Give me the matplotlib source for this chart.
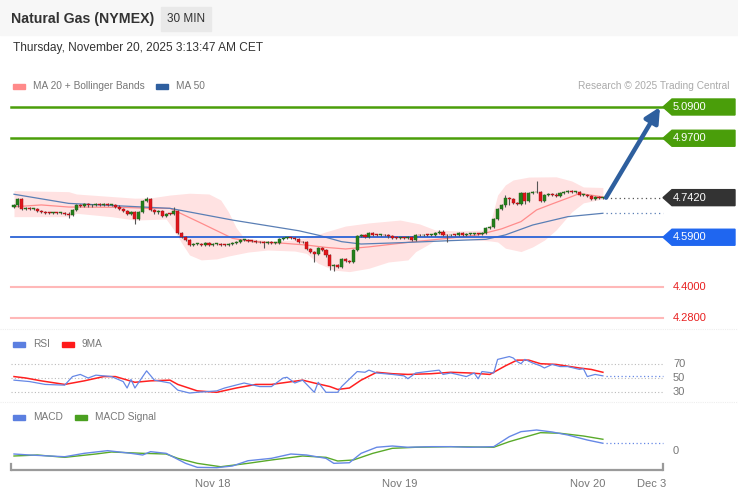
import numpy as np
import matplotlib
matplotlib.use('Agg')
import matplotlib.pyplot as plt
from matplotlib.patches import Rectangle, Polygon
import matplotlib.transforms as mtrans

plt.rcParams['font.family'] = ['Liberation Sans', 'DejaVu Sans']

# ---------------- data (30 min candles, closes) ----------------
closes = [4.712, 4.735, 4.700, 4.703, 4.698, 4.700, 4.690, 4.686, 4.684, 4.683,
          4.684, 4.682, 4.683, 4.681, 4.676, 4.695, 4.712, 4.710, 4.716, 4.712,
          4.715, 4.718, 4.714, 4.716, 4.713, 4.715, 4.708, 4.700, 4.690, 4.678,
          4.685, 4.660, 4.686, 4.730, 4.735, 4.695, 4.685, 4.690, 4.672, 4.680,
          4.678, 4.690, 4.605, 4.590, 4.580, 4.560, 4.563, 4.565, 4.562, 4.566,
          4.560, 4.563, 4.565, 4.561, 4.559, 4.564, 4.567, 4.572, 4.578, 4.580,
          4.577, 4.574, 4.572, 4.570, 4.568, 4.570, 4.567, 4.569, 4.582, 4.586,
          4.588, 4.587, 4.585, 4.572, 4.570, 4.545, 4.535, 4.525, 4.550, 4.540,
          4.520, 4.478, 4.482, 4.476, 4.505, 4.498, 4.495, 4.540, 4.596, 4.598,
          4.590, 4.605, 4.600, 4.598, 4.599, 4.597, 4.593, 4.588, 4.587, 4.588,
          4.586, 4.590, 4.578, 4.598, 4.597, 4.600, 4.598, 4.600, 4.606, 4.612,
          4.598, 4.597, 4.600, 4.598, 4.606, 4.598, 4.602, 4.603, 4.604, 4.603,
          4.605, 4.625, 4.630, 4.660, 4.700, 4.712, 4.742, 4.737, 4.722, 4.718,
          4.760, 4.730, 4.760, 4.762, 4.762, 4.730, 4.752, 4.757, 4.754, 4.750,
          4.760, 4.764, 4.766, 4.763, 4.764, 4.752, 4.752, 4.748, 4.738, 4.743,
          4.741, 4.742]
first_open = 4.705
wick = 0.004
long_highs = {34: 4.745, 41: 4.705, 126: 4.752, 134: 4.807}
long_lows = {14: 4.665, 31: 4.640, 64: 4.548, 77: 4.495, 81: 4.465, 82: 4.462,
             111: 4.570, 127: 4.715, 131: 4.718}

# indicator readings (candle index, value)
ma20_idx = [0, 7, 14, 27, 35, 40, 48, 56, 61, 69, 75, 80, 85, 91, 102, 112, 119, 125, 130, 134, 138, 143, 145, 151]
ma20_val = [4.707, 4.714, 4.706, 4.705, 4.701, 4.701, 4.644, 4.586, 4.573, 4.567, 4.560, 4.551,
            4.545, 4.553, 4.572, 4.587, 4.599, 4.622, 4.650, 4.695, 4.718, 4.746, 4.758, 4.745]
ma50_idx = [0, 14, 40, 56, 73, 78, 84, 89, 99, 112, 121, 126, 133, 142, 151]
ma50_val = [4.755, 4.720, 4.701, 4.656, 4.615, 4.598, 4.573, 4.564, 4.569, 4.577, 4.582, 4.599,
            4.637, 4.669, 4.682]
bb_up_idx = [0, 14, 16, 31, 35, 40, 45, 50, 53, 55, 57, 59, 66, 71, 76, 80, 85, 91, 99, 104, 108,
             114, 121, 122, 124, 126, 128, 132, 139, 143, 146, 151]
bb_up_val = [4.769, 4.765, 4.756, 4.740, 4.741, 4.752, 4.759, 4.756, 4.733, 4.687, 4.626, 4.587,
             4.576, 4.579, 4.591, 4.611, 4.633, 4.645, 4.656, 4.641, 4.618, 4.614, 4.618, 4.637,
             4.752, 4.791, 4.810, 4.821, 4.822, 4.806, 4.783, 4.781]
bb_lo_idx = [0, 14, 16, 25, 31, 37, 39, 41, 43, 45, 48, 52, 55, 60, 65, 72, 75, 78, 82, 86, 91,
             96, 101, 103, 106, 108, 114, 122, 124, 126, 130, 133, 136, 139, 143, 146, 151]
bb_lo_val = [4.669, 4.669, 4.682, 4.669, 4.656, 4.659, 4.660, 4.618, 4.568, 4.522, 4.503, 4.507,
             4.518, 4.533, 4.541, 4.537, 4.528, 4.490, 4.464, 4.458, 4.471, 4.495, 4.503, 4.535,
             4.560, 4.579, 4.583, 4.576, 4.572, 4.548, 4.535, 4.553, 4.579, 4.618, 4.687, 4.722,
             4.737]

rsi_idx = [0, 4, 8, 13, 15, 17, 19, 21, 25, 28, 29, 30, 31, 34, 36, 40, 42, 45, 47, 52, 54, 59,
           63, 66, 69, 70, 72, 74, 77, 78, 80, 83, 84, 88, 90, 91, 93, 97, 100, 101, 103, 109,
           110, 112, 116, 118, 119, 120, 123, 124, 127, 128, 129, 130, 131, 133, 135, 136, 138,
           140, 142, 145, 146, 147, 149, 151]
rsi_val = [47, 45, 41, 40, 52, 55, 50, 54, 52, 45, 36, 48, 36, 60, 47, 43, 33, 29, 30, 32, 36, 43,
           38, 38, 50, 51, 43, 47, 30, 44, 30, 30, 38, 59, 58, 61, 57, 55, 53, 49, 57, 61,
           55, 57, 52, 57, 49, 59, 57, 76, 80, 78, 73, 70, 76, 71, 67, 64, 69,
           66, 66, 62, 63, 52, 55, 53]
rsi_ma_idx = [0, 3, 7, 13, 18, 23, 26, 31, 35, 40, 42, 47, 52, 57, 62, 66, 74, 77, 81, 83, 86, 89,
              93, 97, 101, 107, 112, 117, 122, 126, 129, 132, 135, 139, 145, 148, 151]
rsi_ma_val = [52, 50, 46, 41, 46, 52, 52, 44, 46, 47, 41, 32, 30, 36, 41, 41, 47, 43, 38, 34, 36,
              47, 58, 56, 55, 56, 58, 57, 55, 67, 75, 75, 70, 69, 64, 62, 58]

macd_idx = [0, 4, 13, 18, 24, 30, 33, 35, 39, 44, 47, 52, 56, 60, 66, 71, 75, 80, 82, 86, 89, 93,
            97, 101, 107, 112, 117, 123, 127, 130, 134, 138, 142, 147, 151]
macd_val = [-0.0045, -0.006, -0.0086, -0.0035, 0.0005, -0.0035, -0.006, -0.001, -0.0035, -0.0185,
            -0.0245, -0.025, -0.0225, -0.0146, -0.011, -0.0045, -0.006, -0.011, -0.0185, -0.0176,
            -0.0035, 0.0056, 0.0075, 0.0056, 0.0065, 0.0065, 0.0056, 0.0065, 0.0215, 0.029,
            0.0315, 0.0285, 0.024, 0.0165, 0.0116]
sig_idx = [0, 6, 13, 21, 25, 33, 39, 42, 47, 53, 60, 66, 74, 80, 83, 87, 92, 97, 103, 112, 123,
           127, 132, 135, 140, 146, 151]
sig_val = [-0.0075, -0.006, -0.0095, -0.0045, -0.0015, -0.0035, -0.0045, -0.011, -0.0185, -0.0236,
           -0.0185, -0.0135, -0.0075, -0.0095, -0.015, -0.0135, -0.0035, 0.004, 0.0056, 0.0065,
           0.0056, 0.014, 0.0225, 0.0275, 0.0266, 0.0225, 0.0176]

last_price = 4.742
target_levels = [5.09, 4.97]
pivot_level = 4.59
support_levels = [4.40, 4.28]
rsi_levels = [70, 50, 30]
x_tick_idx = [51, 99, 147, 163.5]
x_tick_labels = ['Nov 18', 'Nov 19', 'Nov 20', 'Dec 3']

# ---------------- layout ----------------
W, H = 738, 500
fig = plt.figure(figsize=(W / 100, H / 100), dpi=100)
PX = 3.9          # pixels per candle
X0 = 14           # pixel of first candle
xlim = (-X0 / PX, (W - X0) / PX)

def ax_at(top, bottom):
    a = fig.add_axes([0, 1 - bottom / H, 1, (bottom - top) / H])
    a.set_xlim(*xlim)
    a.axis('off')
    a.patch.set_alpha(0)
    return a

ov = fig.add_axes([0, 0, 1, 1])
ov.set_xlim(0, W); ov.set_ylim(H, 0); ov.axis('off')

# header
ov.add_patch(Rectangle((0, 0), W, 35, color='#f7f7f7', zorder=0))
ov.add_patch(Rectangle((161, 7), 50, 24, color='#e9e9e9', zorder=1))
ov.text(11, 19, 'Natural Gas (NYMEX)', fontsize=10.2, fontweight='bold', color='#333333', va='center')
ov.text(186, 19, '30 MIN', fontsize=8.5, color='#333333', va='center', ha='center')
ov.text(13, 48, 'Thursday, November 20, 2025 3:13:47 AM CET', fontsize=8.6, color='#333333', va='center')
ov.text(729, 86, 'Research \u00a9 2025 Trading Central', fontsize=7.3, color='#aaaaaa', va='center', ha='right')

def legend_item(x, y, color, label):
    ov.add_patch(Rectangle((x, y - 2.5), 12, 5, color=color))
    ov.text(x + 20, y, label, fontsize=7.3, color='#777777', va='center')

legend_item(13, 86, '#ff8a8a', 'MA 20 + Bollinger Bands')
legend_item(156, 86, '#2f5f9f', 'MA 50')
legend_item(13, 344, '#5b7fe0', 'RSI')
legend_item(62, 344, '#ff1a1a', '9MA')
legend_item(13, 417, '#5b7fe0', 'MACD')
legend_item(75, 417, '#4aa020', 'MACD Signal')

# panel separators
for yy in (329, 402):
    ov.plot([0, W], [yy, yy], color='#eeeeee', lw=0.8, ls=(0, (1, 1)))

# x axis
ov.plot([11, 663], [470, 470], color='#9a9a9a', lw=1.6, solid_capstyle='butt')
ov.plot([11, 11], [470, 464], color='#9a9a9a', lw=1.6)
ov.plot([663, 663], [470, 464], color='#9a9a9a', lw=1.6)

# ---------------- price panel ----------------
ax = ax_at(75, 328)
ax.set_ylim(4.2416, 5.2128)
ppu = 253 / (5.2128 - 4.2416)
L, R = 11 / W, 663 / W

n = len(closes)
idx = np.arange(n)
c = np.array(closes)
o = np.concatenate([[first_open], c[:-1]])
hi = np.maximum(o, c) + wick
lo = np.minimum(o, c) - wick
for k, v in long_highs.items():
    hi[k] = v
for k, v in long_lows.items():
    lo[k] = v

# bollinger band fill
up_i = np.interp(idx, bb_up_idx, bb_up_val)
lo_i = np.interp(idx, bb_lo_idx, bb_lo_val)
ax.fill_between(idx, lo_i, up_i, color='#ffe2e2', lw=0, zorder=1)
ax.plot(ma20_idx, ma20_val, color='#ff8c8c', lw=0.9, zorder=2)
ax.plot(ma50_idx, ma50_val, color='#5a7fb5', lw=0.9, zorder=2)

# levels
for lv in target_levels:
    ax.axhline(lv, xmin=L, xmax=R, color='#4a9e0a', lw=1.8, zorder=3)
ax.axhline(pivot_level, xmin=L, xmax=R, color='#2b63d6', lw=1.3, zorder=3)
for lv in support_levels:
    ax.axhline(lv, xmin=L, xmax=R, color='#ffb8b8', lw=1.5, zorder=3)
ax.axhline(last_price, xmin=606 / W, xmax=R, color='#555555', lw=0.9, ls=(0, (1, 2.5)), zorder=3)
ax.axhline(ma50_val[-1], xmin=606 / W, xmax=R, color='#5a7fb5', lw=0.9, ls=(0, (1, 2.5)), zorder=3)

# candles
up = c >= o
ax.vlines(idx, lo, hi, color='#555555', lw=0.8, zorder=4)
body_b = np.minimum(o, c)
body_h = np.maximum(np.abs(c - o), 0.0035)
ax.bar(idx[up], body_h[up], bottom=body_b[up], width=0.8, color='#24801c',
       edgecolor='#1d5e17', lw=0.3, zorder=5)
ax.bar(idx[~up], body_h[~up], bottom=body_b[~up], width=0.8, color='#e0151b',
       edgecolor='#a01014', lw=0.3, zorder=5)

# forecast arrow
x_start = idx[-1] + 0.8
x_end = (660 - X0) / PX
ax.annotate('', xy=(x_end, target_levels[0]), xytext=(x_start, last_price),
            arrowprops=dict(arrowstyle='-|>,head_length=0.9,head_width=0.45', lw=3.2,
                            color='#2e5f9e', shrinkA=0, shrinkB=0), zorder=6)

# tags
bt = mtrans.blended_transform_factory(ax.transAxes, ax.transData)
def tag(price, color, text):
    h = 8 / ppu
    xs = [663 / W, 672 / W, 735 / W, 735 / W, 672 / W]
    ys = [price, price + h, price + h, price - h, price - h]
    ax.add_patch(Polygon(list(zip(xs, ys)), closed=True, color=color, transform=bt,
                         clip_on=False, zorder=6))
    ax.text(673 / W, price, text, color='white', fontsize=8, va='center', ha='left',
            transform=bt, zorder=7)

for lv in target_levels:
    tag(lv, '#4a9e0a', f'{lv:.4f}')
tag(last_price, '#333333', f'{last_price:.4f}')
tag(pivot_level, '#1f66f0', f'{pivot_level:.4f}')
for lv in support_levels:
    ax.text(673 / W, lv, f'{lv:.4f}', color='#e82020', fontsize=8, va='center', ha='left', transform=bt)

# ---------------- RSI panel ----------------
ax2 = ax_at(330, 402)
ax2.set_ylim(16.43, 117.13)
bt2 = mtrans.blended_transform_factory(ax2.transAxes, ax2.transData)
for lv in rsi_levels:
    ax2.axhline(lv, xmin=L, xmax=R, color='#bbbbbb', lw=0.8, ls=(0, (1, 2)))
    ax2.text(673 / W, lv, str(lv), color='#777777', fontsize=8, va='center', ha='left', transform=bt2)
ax2.plot(rsi_idx, rsi_val, color='#6688e6', lw=0.9, zorder=3)
ax2.plot(rsi_ma_idx, rsi_ma_val, color='#ff2020', lw=1.1, zorder=2)
ax2.axhline(rsi_val[-1], xmin=606 / W, xmax=R, color='#6688e6', lw=0.9, ls=(0, (1, 2)))

# ---------------- MACD panel ----------------
ax3 = ax_at(404, 470)
ax3.set_ylim(-0.0285, 0.0705)
bt3 = mtrans.blended_transform_factory(ax3.transAxes, ax3.transData)
ax3.plot(sig_idx, sig_val, color='#5aaa2a', lw=1.0, zorder=2)
ax3.plot(macd_idx, macd_val, color='#6688e6', lw=1.0, zorder=3)
ax3.axhline(macd_val[-1], xmin=606 / W, xmax=R, color='#6688e6', lw=0.9, ls=(0, (1, 2)))
ax3.text(673 / W, 0, '0', color='#777777', fontsize=8, va='center', ha='left', transform=bt3)

btx = mtrans.blended_transform_factory(ax3.transData, ax3.transAxes)
for t, lab in zip(x_tick_idx, x_tick_labels):
    ax3.text(t, -14 / 66, lab, color='#777777', fontsize=8, ha='center', va='center', transform=btx)

fig.savefig('out.png', dpi=100)
